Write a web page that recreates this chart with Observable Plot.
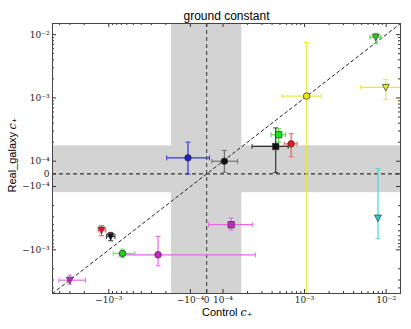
<!DOCTYPE html>
<html>
<head>
<meta charset="utf-8">
<script src="https://cdn.jsdelivr.net/npm/d3@7"></script>
<script src="https://cdn.jsdelivr.net/npm/@observablehq/plot@0.6"></script>
<style>
  html, body { margin: 0; padding: 0; background: #fff; }
  #chart svg { font-family: "Liberation Sans", Arial, sans-serif; background: #fff; }
</style>
</head>
<body>
<div id="chart"></div>
<script>
// ---- data ----
const markers = ["circle","circle","square","square","circle","circle","tri","tri","tri","square","circle","circle","tri","tri","tri"];
const fillColors = ["#1c1cdc","#111111","#111111","#22dd22","#e8191a","#e6e61a","#22cc22","#e6e61a","#22cccc","#cc22cc","#cc22cc","#22cc22","#e8191a","#111111","#cc22cc"];
const errColors  = ["#3434dc","#707070","#333333","#44e044","#ee6060","#e8e840","#44dd44","#e8e840","#33dddd","#e866e8","#e866e8","#77dd77","#ee5050","#333333","#e866e8"];
const xVal  = [-1.07e-4, 1.04e-4, 4.43e-4, 4.82e-4, 6.85e-4, 1.06e-3, 7.46e-3, 9.9e-3, 7.94e-3, 1.26e-4, -2.49e-4, -6.78e-4, -1.23e-3, -9.5e-4, -3.01e-3];
const yVal  = [1.13e-4, 1.0e-4, 1.71e-4, 2.62e-4, 1.88e-4, 1.07e-3, 9.1e-3, 1.47e-3, -3.14e-4, -4.01e-4, -1.2e-3, -1.14e-3, -4.87e-4, -6.15e-4, -3.02e-3];
const xLow  = [-1.95e-4, 3.2e-5, 2.27e-4, 3.89e-4, 5.63e-4, 5.31e-4, 6.34e-3, 4.88e-3, 7.94e-3, 1.1e-5, -7.47e-4, -8.83e-4, -1.35e-3, -1.07e-3, -4.08e-3];
const xHigh = [1.7e-5, 1.51e-4, 6.3e-4, 5.83e-4, 8.11e-4, 1.6e-3, 8.59e-3, 1.49e-2, 7.94e-3, 2.31e-4, 2.49e-4, -4.78e-4, -1.09e-3, -8.4e-4, -1.93e-3];
const yLow  = [-2e-6, 1.3e-5, 1e-5, 2.0e-4, 1.17e-4, -5.3e-3, 7.3e-3, 9.4e-4, -6.68e-4, -4.87e-4, -1.79e-3, -1.32e-3, -6.0e-4, -7.2e-4, -3.49e-3];
const yHigh = [2.0e-4, 1.48e-4, 3.36e-4, 3.26e-4, 2.72e-4, 7.5e-3, 1.05e-2, 1.95e-3, 3.96e-5, -3.14e-4, -6.15e-4, -9.75e-4, -4.16e-4, -5.31e-4, -2.51e-3];

const axisLimits = [-0.0049, 0.015];
const xBand = [-1.7e-4, 1.7e-4];
const yBand = [-1.25e-4, 1.75e-4];
const tickValues = [-1e-3, -1e-4, 0, 1e-4, 1e-3, 1e-2];
const tickLabels = ["−10⁻³", "−10⁻⁴", "0", "10⁻⁴", "10⁻³", "10⁻²"];
const minorMultipliers = [2,3,4,5,6,7,8,9];
const minorDecades = [1e-4, 1e-3, 1e-2];

// ---- matplotlib-style symlog transform ----
const LINTHRESH = 1e-4, LINSCALE = 0.2;
function T(v) {
  const a = Math.abs(v);
  const t = a <= LINTHRESH ? a / LINTHRESH * LINSCALE : LINSCALE + Math.log10(a / LINTHRESH);
  return v < 0 ? -t : t;
}

const dom = axisLimits.map(T);
const minorTicks = [];
for (const d of minorDecades) for (const m of minorMultipliers) {
  for (const v of [m * d, -m * d]) if (v > axisLimits[0] && v < axisLimits[1]) minorTicks.push(T(v));
}
const majorTicks = tickValues.map(T);
const labelMap = new Map(majorTicks.map((t, i) => [t, tickLabels[i]]));

const W = 411, H = 329, mL = 52, mR = 11, mT = 23, mB = 36;
const PW = W - mL - mR, PH = H - mT - mB;

const idx = d3.range(xVal.length);
const triDown = {draw(ctx, size) { const r = Math.sqrt(size / Math.PI); ctx.moveTo(-r, -r * 0.85); ctx.lineTo(r, -r * 0.85); ctx.lineTo(0, r * 1.05); ctx.closePath(); }};
const hCap = {draw(ctx) { ctx.moveTo(-2.5, 0); ctx.lineTo(2.5, 0); }};
const vCap = {draw(ctx) { ctx.moveTo(0, -2.5); ctx.lineTo(0, 2.5); }};
const withX = idx.filter(i => xLow[i] !== xHigh[i]);
const withY = idx.filter(i => yLow[i] !== yHigh[i]);

const markStyle = {stroke: "#333", strokeWidth: 0.7};

const chart = Plot.plot({
  width: W, height: H,
  marginLeft: mL, marginRight: mR, marginTop: mT, marginBottom: mB,
  x: {type: "linear", domain: dom},
  y: {type: "linear", domain: dom},
  marks: [
    Plot.rect([xBand], {x1: d => T(d[0]), x2: d => T(d[1]), y1: dom[0], y2: dom[1], fill: "#d3d3d3"}),
    Plot.rect([yBand], {y1: d => T(d[0]), y2: d => T(d[1]), x1: dom[0], x2: dom[1], fill: "#d3d3d3"}),
    Plot.ruleY([0], {stroke: "#111", strokeDasharray: "4,3", strokeWidth: 1}),
    Plot.ruleX([0], {stroke: "#333", strokeDasharray: "4,3", strokeWidth: 1}),
    Plot.line(axisLimits, {x: d => T(d), y: d => T(d), stroke: "#222", strokeDasharray: "3,3", strokeWidth: 1, clip: true}),
    // error bars
    Plot.link(withX, {x1: i => T(xLow[i]), x2: i => T(xHigh[i]), y1: i => T(yVal[i]), y2: i => T(yVal[i]), stroke: i => errColors[i], strokeWidth: 1.2, clip: true}),
    Plot.link(withY, {x1: i => T(xVal[i]), x2: i => T(xVal[i]), y1: i => T(yLow[i]), y2: i => T(yHigh[i]), stroke: i => errColors[i], strokeWidth: 1.2, clip: true}),
    Plot.dot(withX, {x: i => T(xLow[i]), y: i => T(yVal[i]), symbol: vCap, r: 3, fill: "none", stroke: i => errColors[i], strokeWidth: 1, clip: true}),
    Plot.dot(withX, {x: i => T(xHigh[i]), y: i => T(yVal[i]), symbol: vCap, r: 3, fill: "none", stroke: i => errColors[i], strokeWidth: 1, clip: true}),
    Plot.dot(withY, {x: i => T(xVal[i]), y: i => T(yLow[i]), symbol: hCap, r: 3, fill: "none", stroke: i => errColors[i], strokeWidth: 1, clip: true}),
    Plot.dot(withY, {x: i => T(xVal[i]), y: i => T(yHigh[i]), symbol: hCap, r: 3, fill: "none", stroke: i => errColors[i], strokeWidth: 1, clip: true}),
    // markers
    Plot.dot(idx.filter(i => markers[i] === "circle"), {x: i => T(xVal[i]), y: i => T(yVal[i]), symbol: "circle", r: 3.3, fill: i => fillColors[i], ...markStyle}),
    Plot.dot(idx.filter(i => markers[i] === "square"), {x: i => T(xVal[i]), y: i => T(yVal[i]), symbol: "square", r: 3.6, fill: i => fillColors[i], ...markStyle}),
    Plot.dot(idx.filter(i => markers[i] === "tri"), {x: i => T(xVal[i]), y: i => T(yVal[i]), symbol: triDown, r: 3.5, fill: i => fillColors[i], ...markStyle}),
    // inward ticks on all four sides
    Plot.tickX(majorTicks, {x: d => d, insetTop: PH - 4, stroke: "#333"}),
    Plot.tickX(majorTicks, {x: d => d, insetBottom: PH - 4, stroke: "#333"}),
    Plot.tickX(minorTicks, {x: d => d, insetTop: PH - 2, stroke: "#333"}),
    Plot.tickX(minorTicks, {x: d => d, insetBottom: PH - 2, stroke: "#333"}),
    Plot.tickY(majorTicks, {y: d => d, insetRight: PW - 4, stroke: "#333"}),
    Plot.tickY(majorTicks, {y: d => d, insetLeft: PW - 4, stroke: "#333"}),
    Plot.tickY(minorTicks, {y: d => d, insetRight: PW - 2, stroke: "#333"}),
    Plot.tickY(minorTicks, {y: d => d, insetLeft: PW - 2, stroke: "#333"}),
    Plot.frame({stroke: "#444", strokeWidth: 1}),
    // tick labels
    Plot.axisX(majorTicks, {tickSize: 0, tickPadding: 3, tickFormat: d => labelMap.get(d), label: null, fontSize: 9, fontFamily: "DejaVu Serif", fill: "#222"}),
    Plot.axisY(majorTicks, {tickSize: 0, tickPadding: 3, tickFormat: d => labelMap.get(d), label: null, fontSize: 9, fontFamily: "DejaVu Serif", fill: "#222"}),
    // title and axis labels
    Plot.text(["ground constant"], {frameAnchor: "top", dy: -7, lineAnchor: "middle", fontSize: 12, fill: "#000"}),
    Plot.text(["Control"], {frameAnchor: "bottom", dx: 11, dy: 19, textAnchor: "end", lineAnchor: "middle", fontSize: 11, fill: "#000"}),
    Plot.text(["c₊"], {frameAnchor: "bottom", dx: 14, dy: 19, textAnchor: "start", lineAnchor: "middle", fontSize: 11, fontStyle: "italic", fontFamily: "DejaVu Serif", fill: "#000"}),
    Plot.text(["Real_galaxy"], {frameAnchor: "left", dx: -40, dy: 34, rotate: -90, textAnchor: "start", lineAnchor: "middle", fontSize: 11, fill: "#000"}),
    Plot.text(["c₊"], {frameAnchor: "left", dx: -40, dy: -29, rotate: -90, textAnchor: "start", lineAnchor: "middle", fontSize: 11, fontStyle: "italic", fontFamily: "DejaVu Serif", fill: "#000"})
  ]
});
document.getElementById("chart").appendChild(chart);
</script>
</body>
</html>
